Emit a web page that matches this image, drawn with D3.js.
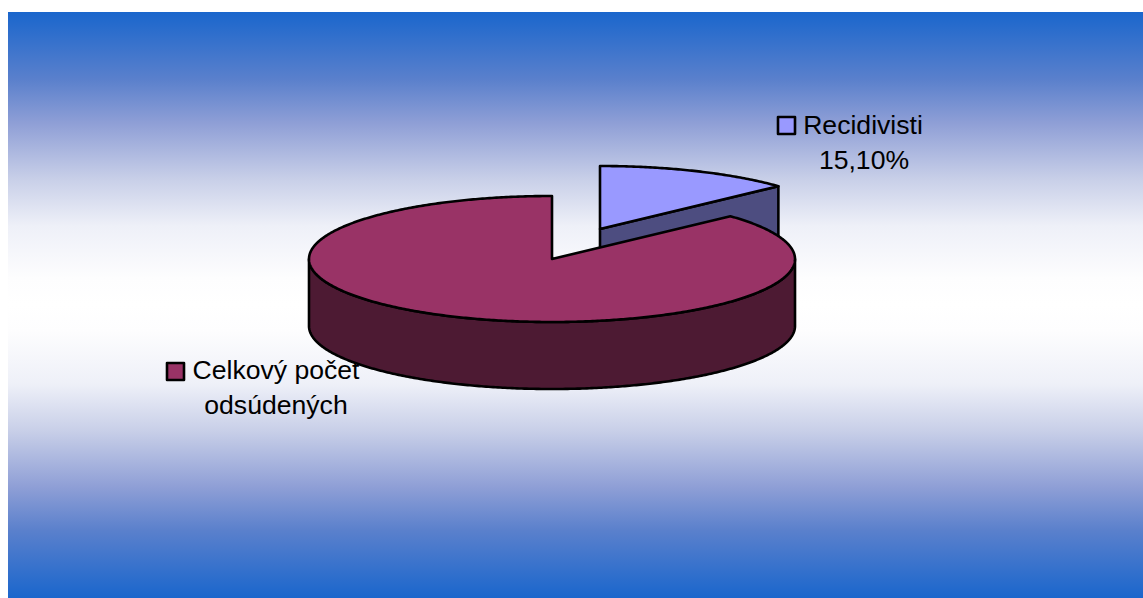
<!DOCTYPE html>
<html>
<head>
<meta charset="utf-8">
<title>Recidivisti</title>
<script src="https://cdn.jsdelivr.net/npm/d3@7"></script>
<style>
    html, body { margin: 0; padding: 0; background: #fff; overflow: hidden; }
    svg { display: block; }
    text { font-family: "Liberation Sans", Arial, sans-serif; font-size: 26.6px; fill: #000; }
</style>
</head>
<body>
<svg></svg>
<script>
// drawn shares are value / sum, so 15.1 against 100 gives the small slice
let categories = ['Recidivisti', 'Celkový počet odsúdených']
let values = [15.1, 100]
let valueLabels = ['15,10%', '']
let labelLines = [['Recidivisti', '15,10%'], ['Celkový počet', 'odsúdených']]
let colors = ['#9999ff', '#993366']
let wallColors = ['#4d4d80', '#4d1a33']

let width = 1143
let height = 598

// the pie as it sits on the page
let rx = 243
let ry = 63
let centerX = 552
let centerY = 259
let depth = 67
// the small slice is pulled out of the pie
let explode = [[48, -30], [0, 0]]

let svg = d3.select('svg').attr('width', width).attr('height', height)

let halfStops = [
    [0, '#1a66cc'],
    [11.5, '#5a80cc'],
    [19, '#8f9fd6'],
    [28.5, '#c8cfe8'],
    [36.5, '#eef0f8'],
    [45.5, '#fdfdfe'],
    [50, '#ffffff']
]
let gradient = svg.append('defs').append('linearGradient')
    .attr('id', 'bg')
    .attr('x1', 0).attr('y1', 0).attr('x2', 0).attr('y2', 1)
halfStops.concat(halfStops.slice(0, -1).reverse().map(d => [100 - d[0], d[1]])).forEach(d => {
    gradient.append('stop').attr('offset', d[0] + '%').attr('stop-color', d[1])
})

svg.append('rect')
    .attr('x', 8).attr('y', 12)
    .attr('width', width - 8).attr('height', height - 12)
    .attr('fill', 'url(#bg)')

let xScale = d3.scaleLinear().domain([-1, 1]).range([centerX - rx, centerX + rx])
let yScale = d3.scaleLinear().domain([-1, 1]).range([centerY - ry, centerY + ry])

let slices = d3.pie().sort(null)(values)

let line = d3.line().x(d => d[0]).y(d => d[1])

// point on the rim, angle measured clockwise from the top
let rim = (angle, offset, drop) => [
    xScale(Math.sin(angle)) + offset[0],
    yScale(-Math.cos(angle)) + offset[1] + drop
]

let rimPoints = (a0, a1, offset, drop) => {
    let n = Math.ceil(Math.abs(a1 - a0) / 0.01)
    return d3.range(n + 1).map(i => rim(a0 + (a1 - a0) * i / n, offset, drop))
}

let middle = (offset, drop) => [centerX + offset[0], centerY + offset[1] + drop]

let outline = sel => sel
    .attr('stroke', '#000')
    .attr('stroke-width', 2.6)
    .attr('stroke-linejoin', 'round')

// legend labels go first, the pie covers the end of the long one
let drawLabels = () => {
    let keys = [
        { box: [778, 117], lines: [[863, 134], [864, 169]] },
        { box: [167, 363], lines: [[276, 379], [276, 414]] }
    ]
    keys.forEach((key, i) => {
        svg.append('rect')
            .attr('x', key.box[0]).attr('y', key.box[1])
            .attr('width', 17).attr('height', 17)
            .attr('fill', colors[i])
            .call(outline)
        labelLines[i].forEach((txt, j) => {
            svg.append('text')
                .attr('x', key.lines[j][0]).attr('y', key.lines[j][1])
                .attr('text-anchor', 'middle')
                .text(txt)
        })
    })
}

let drawSmallSlice = () => {
    let s = slices[0]
    let off = explode[0]
    // cut wall facing the viewer
    let wall = [middle(off, 0), rim(s.endAngle, off, 0), rim(s.endAngle, off, depth), middle(off, depth)]
    svg.append('path')
        .attr('d', line(wall) + 'Z')
        .attr('fill', wallColors[0])
        .call(outline)
    let top = [middle(off, 0)].concat(rimPoints(s.startAngle, s.endAngle, off, 0))
    svg.append('path')
        .attr('d', line(top) + 'Z')
        .attr('fill', colors[0])
        .call(outline)
}

let drawBigSlice = () => {
    let s = slices[1]
    let off = explode[1]
    // front half of the rim, down and back again
    let upper = rimPoints(Math.PI / 2, Math.PI * 1.5, off, 0)
    let lower = rimPoints(Math.PI * 1.5, Math.PI / 2, off, depth)
    svg.append('path')
        .attr('d', line(upper.concat(lower)) + 'Z')
        .attr('fill', wallColors[1])
        .call(outline)
    let top = [middle(off, 0)].concat(rimPoints(s.startAngle, s.endAngle, off, 0))
    svg.append('path')
        .attr('d', line(top) + 'Z')
        .attr('fill', colors[1])
        .call(outline)
}

drawLabels()
drawSmallSlice()
drawBigSlice()
</script>
</body>
</html>
